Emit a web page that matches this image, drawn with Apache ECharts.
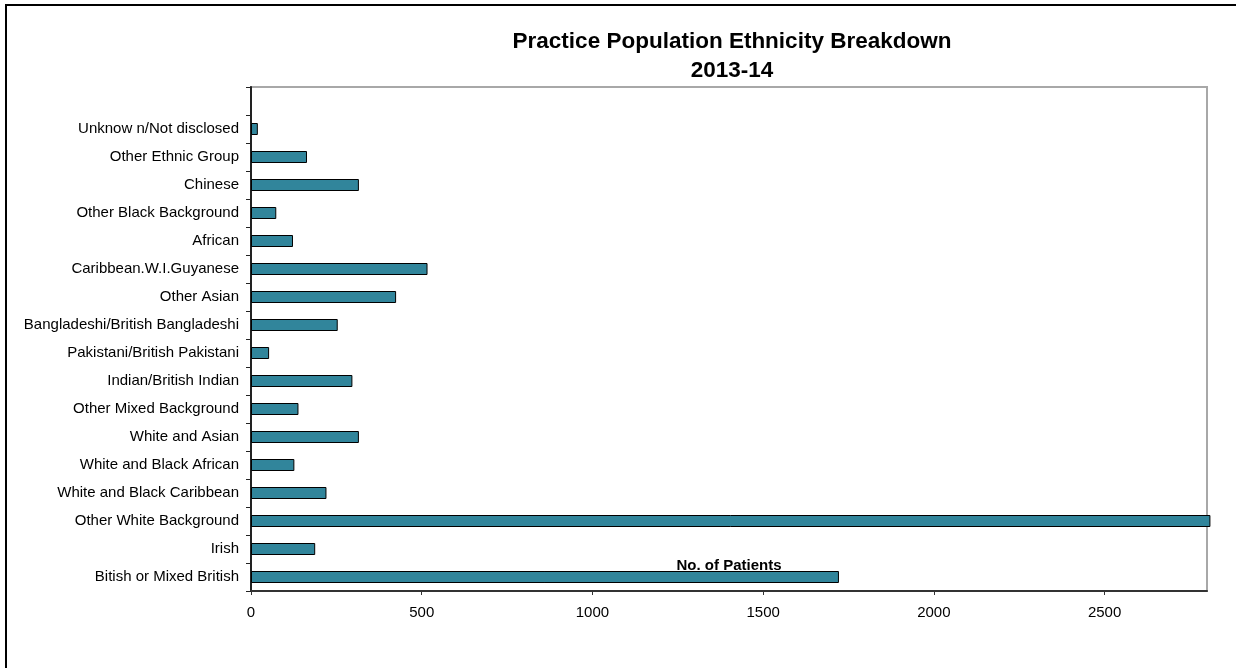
<!DOCTYPE html>
<html>
<head>
<meta charset="utf-8">
<title>Practice Population Ethnicity Breakdown</title>
<script src="https://cdn.jsdelivr.net/npm/echarts@6/dist/echarts.min.js"></script>
<style>
  html, body { margin: 0; padding: 0; background: #fff; }
  #chart { width: 1236px; height: 668px; }
</style>
</head>
<body>
<div id="chart"></div>
<script>
// categories, bottom to top (echarts draws the first category at the bottom)
var categories = [
  'Bitish or Mixed British',
  'Irish',
  'Other White Background',
  'White and Black Caribbean',
  'White and Black African',
  'White and Asian',
  'Other Mixed Background',
  'Indian/British Indian',
  'Pakistani/British Pakistani',
  'Bangladeshi/British Bangladeshi',
  'Other Asian',
  'Caribbean.W.I.Guyanese',
  'African',
  'Other Black Background',
  'Chinese',
  'Other Ethnic Group',
  'Unknow n/Not disclosed',
  ''
];
// no. of patients per category
var patients = [1722, 188, 2810, 221, 127, 316, 139, 297, 53, 254, 425, 517, 123, 74, 316, 164, 20, null];
var xTicks = [0, 500, 1000, 1500, 2000, 2500];
var xMax = 2800;

var chart = echarts.init(document.getElementById('chart'));

var option = {
  backgroundColor: '#fff',
  animation: false,
  title: {
    text: 'Practice Population Ethnicity Breakdown\n2013-14',
    left: 732,
    top: 27,
    padding: 0,
    textAlign: 'center',
    textStyle: {
      fontFamily: 'Liberation Sans',
      fontSize: 22.5,
      fontWeight: 'bold',
      lineHeight: 29,
      color: '#000'
    }
  },
  grid: {
    left: 251,
    top: 87,
    right: 29,
    bottom: 77,
    show: true,
    borderColor: '#a8a8a8',
    borderWidth: 2,
    containLabel: false
  },
  xAxis: {
    type: 'value',
    min: 0,
    max: xMax,
    interval: 500,
    name: 'No. of Patients',
    nameLocation: 'middle',
    nameGap: -33,
    nameTextStyle: {
      fontFamily: 'Liberation Sans',
      fontSize: 15,
      fontWeight: 'bold',
      color: '#000'
    },
    axisLine: { show: true, lineStyle: { color: '#333', width: 2 } },
    axisTick: { show: true, length: 4, customValues: xTicks, lineStyle: { color: '#333' } },
    splitLine: { show: false },
    axisLabel: {
      margin: 14,
      customValues: xTicks,
      fontFamily: 'Liberation Sans',
      fontSize: 15,
      color: '#000',
      formatter: function (v) { return String(v); }
    }
  },
  yAxis: {
    type: 'category',
    data: categories,
    axisLine: { show: true, lineStyle: { color: '#222', width: 2 } },
    axisTick: { show: true, length: 5, lineStyle: { color: '#222' } },
    axisLabel: {
      margin: 12,
      interval: 0,
      fontFamily: 'Liberation Sans',
      fontSize: 15,
      color: '#000'
    }
  },
  series: [{
    type: 'bar',
    name: 'No. of Patients',
    data: patients,
    barWidth: 12,
    clip: false,
    itemStyle: {
      color: '#31859b',
      borderColor: '#000',
      borderWidth: 1
    }
  }],
  graphic: [{
    type: 'rect',
    silent: true,
    shape: { x: 6, y: 5, width: 1400, height: 900 },
    style: { fill: null, stroke: '#000', lineWidth: 2 }
  }]
};

chart.setOption(option);
</script>
</body>
</html>
